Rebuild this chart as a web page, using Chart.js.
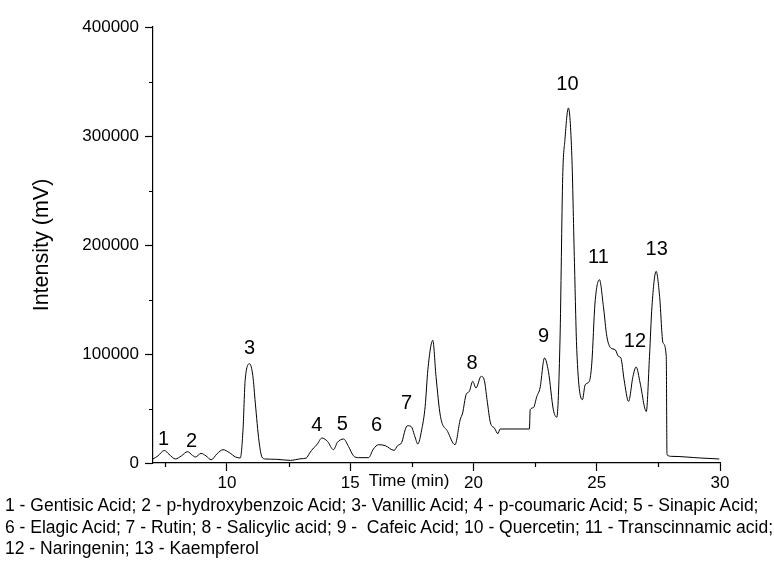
<!DOCTYPE html>
<html>
<head>
<meta charset="utf-8">
<title>Chromatogram</title>
<script src="https://cdn.jsdelivr.net/npm/chart.js@4"></script>
<style>
  html, body { margin: 0; padding: 0; background: #fff; }
  #wrap { position: relative; width: 774px; height: 561px; }
  #chart { position: absolute; left: 0; top: 0; }
  #legend {
    position: absolute;
    left: 5px;
    top: 495px;
    font-family: "Liberation Sans", Arial, sans-serif;
    font-size: 17.5px;
    line-height: 21.5px;
    color: #000;
    white-space: pre;
  }
</style>
</head>
<body>
<div id="wrap">
  <canvas id="chart" width="774" height="561"></canvas>
  <div id="legend">1 - Gentisic Acid; 2 - p-hydroxybenzoic Acid; 3- Vanillic Acid; 4 - p-coumaric Acid; 5 - Sinapic Acid;
6 - Elagic Acid; 7 - Rutin; 8 - Salicylic acid; 9 -  Cafeic Acid; 10 - Quercetin; 11 - Transcinnamic acid;
12 - Naringenin; 13 - Kaempferol</div>
</div>
<script>
  // Retention time (min)
  const times = [
    7.00, 7.20, 7.46, 7.65, 7.91, 8.15, 8.40, 8.60, 8.72, 8.95,
    9.15, 9.36, 9.60, 9.84, 10.10, 10.35, 10.54, 10.65, 10.74, 10.92,
    11.05, 11.15, 11.30, 11.42, 11.55, 12.00, 12.57, 13.00, 13.22, 13.35,
    13.51, 13.65, 13.85, 14.08, 14.32, 14.48, 14.73, 14.93, 15.13, 15.34,
    15.74, 15.94, 16.15, 16.42, 16.78, 16.92, 17.09, 17.23, 17.32, 17.47,
    17.63, 17.74, 17.90, 18.04, 18.15, 18.35, 18.48, 18.66, 18.95, 19.25,
    19.46, 19.56, 19.70, 19.83, 19.97, 20.10, 20.31, 20.44, 20.55, 20.69,
    20.85, 20.99, 21.08, 22.27, 22.30, 22.43, 22.57, 22.70, 22.88, 23.04,
    23.24, 23.38, 23.51, 23.62, 23.71, 23.85, 23.99, 24.09, 24.19, 24.42,
    24.53, 24.70, 24.80, 24.93, 25.11, 25.27, 25.41, 25.57, 25.75, 25.88,
    25.98, 26.11, 26.29, 26.47, 26.60, 26.76, 27.01, 27.14, 27.24, 27.41,
    27.55, 27.69, 27.82, 27.85, 28.05, 29.20, 29.97
  ];

  // Detector signal (mV)
  const intensity = [
    3700, 6500, 11500, 8000, 3700, 6500, 10400, 7000, 5500, 8800,
    6500, 3000, 8500, 12200, 9500, 5500, 4600, 30000, 76400, 91000,
    80000, 55000, 20000, 5500, 3700, 3400, 2400, 3900, 4600, 9000,
    13700, 16800, 22900, 19800, 12200, 18900, 22000, 15200, 6700, 4900,
    4900, 12800, 16800, 15900, 11600, 15900, 18900, 30500, 34200, 33500,
    23800, 17400, 30500, 51900, 85600, 112500, 79500, 42800, 29000, 16800,
    39700, 45900, 62700, 65700, 74900, 68800, 79500, 75800, 58100, 36700,
    32100, 26900, 31200, 31200, 48900, 50700, 61100, 68800, 96300, 84000,
    48900, 42000, 113000, 262900, 296600, 325700, 281300, 189500, 103900, 58100,
    71800, 74900, 91700, 146800, 168200, 143700, 116100, 105500, 103900, 97800,
    96300, 76400, 56500, 79500, 88100, 73400, 47300, 97800, 143700, 175800,
    152800, 110100, 97800, 7600, 6100, 4600, 3700
  ];

  // Peak numbers and where their labels sit (time, intensity)
  const peakNames = ["1", "2", "3", "4", "5", "6", "7", "8", "9", "10", "11", "12", "13"];
  const peakTimes = [7.43, 8.56, 10.92, 13.64, 14.68, 16.07, 17.29, 19.94, 22.84, 23.81, 25.07, 26.55, 27.43];
  const peakLabelValues = [21400, 19800, 105500, 34200, 35100, 34200, 54400, 91700, 116100, 347000, 188100, 111600, 195700];

  // Axis ticks
  const xMajorTicks = [10, 15, 20, 25, 30];
  const xMinorTicks = [7.5, 12.5, 17.5, 22.5, 27.5];
  const yMajorTicks = [0, 100000, 200000, 300000, 400000];
  const yMinorTicks = [50000, 150000, 250000, 350000];

  const FONT = "'Liberation Sans', Arial, sans-serif";

  // Minor ticks, axis title on the label row, peak numbers
  const extrasPlugin = {
    id: "extras",
    afterDraw(chart) {
      const ctx = chart.ctx;
      const xs = chart.scales.x;
      const ys = chart.scales.y;
      const area = chart.chartArea;

      ctx.save();
      ctx.strokeStyle = "#000";
      ctx.lineWidth = 1.2;
      ctx.beginPath();
      xMinorTicks.forEach((t) => {
        const px = Math.round(xs.getPixelForValue(t)) + 0.5;
        ctx.moveTo(px, area.bottom);
        ctx.lineTo(px, area.bottom + 4);
      });
      yMinorTicks.forEach((v) => {
        const py = Math.round(ys.getPixelForValue(v)) + 0.5;
        ctx.moveTo(area.left, py);
        ctx.lineTo(area.left - 4, py);
      });
      ctx.stroke();

      ctx.fillStyle = "#000";
      ctx.textAlign = "center";
      ctx.textBaseline = "middle";
      ctx.font = "17px " + FONT;
      ctx.fillText("Time (min)", xs.getPixelForValue(17.39), area.bottom + 18);

      ctx.font = "20px " + FONT;
      peakNames.forEach((name, i) => {
        ctx.fillText(
          name,
          xs.getPixelForValue(peakTimes[i]),
          ys.getPixelForValue(peakLabelValues[i])
        );
      });
      ctx.restore();
    },
  };

  function createChart() {
    const ctx = document.getElementById("chart").getContext("2d");
    const points = times.map((t, i) => ({ x: t, y: intensity[i] }));

    return new Chart(ctx, {
      type: "line",
      data: {
        datasets: [
          {
            data: points,
            borderColor: "#000",
            borderWidth: 1,
            pointRadius: 0,
            fill: false,
            cubicInterpolationMode: "monotone",
          },
        ],
      },
      options: {
        responsive: false,
        animation: false,
        layout: { padding: { top: 27, right: 54, left: 0, bottom: 0 } },
        plugins: {
          legend: { display: false },
          tooltip: { enabled: false },
        },
        scales: {
          x: {
            type: "linear",
            min: 7,
            max: 30,
            afterBuildTicks: (scale) => {
              scale.ticks = xMajorTicks.map((v) => ({ value: v }));
            },
            afterFit: (scale) => {
              scale.height = 98;
            },
            border: { display: true, color: "#000", width: 1.2 },
            grid: {
              drawOnChartArea: false,
              drawTicks: true,
              tickLength: 8,
              tickColor: "#000",
              tickWidth: 1.2,
            },
            ticks: {
              color: "#000",
              font: { family: FONT, size: 17 },
              padding: 2,
              maxRotation: 0,
              autoSkip: false,
            },
          },
          y: {
            type: "linear",
            min: 0,
            max: 400000,
            afterBuildTicks: (scale) => {
              scale.ticks = yMajorTicks.map((v) => ({ value: v }));
            },
            afterFit: (scale) => {
              scale.width = 153;
            },
            border: { display: true, color: "#000", width: 1.2 },
            grid: {
              drawOnChartArea: false,
              drawTicks: true,
              tickLength: 8,
              tickColor: "#000",
              tickWidth: 1.2,
            },
            ticks: {
              color: "#000",
              font: { family: FONT, size: 17 },
              padding: 6,
              callback: (v) => String(v),
            },
            title: {
              display: true,
              text: "Intensity (mV)",
              color: "#000",
              font: { family: FONT, size: 21.5 },
              padding: { top: 29, bottom: 0 },
            },
          },
        },
      },
      plugins: [extrasPlugin],
    });
  }

  createChart();
</script>
</body>
</html>
